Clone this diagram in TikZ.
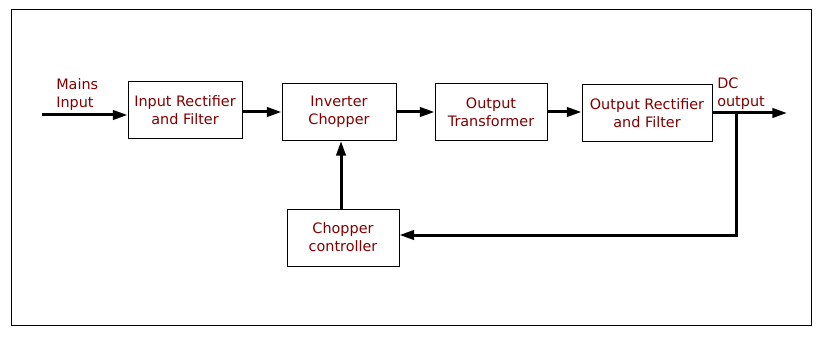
\documentclass[tikz,border=0pt]{standalone}
\usepackage{fontspec}
\setmainfont{DejaVu Sans}
\usetikzlibrary{arrows.meta,positioning}
\definecolor{PsuMaroon}{HTML}{800000}
\tikzset{
  psublock/.style={
    draw=black,
    line width=0.75pt,
    minimum height=42.75pt,
    align=center,
    text=PsuMaroon,
    font=\fontsize{10.8}{13.5}\selectfont,
    inner sep=2pt
  },
  psulabel/.style={
    anchor=north west,
    align=left,
    inner sep=0pt,
    text=PsuMaroon,
    font=\fontsize{10.8}{13.5}\selectfont
  },
  psuarrow/.style={-{Triangle[length=11pt,width=7pt]},line width=2.25pt,draw=black}
}
\begin{document}
\begin{tikzpicture}[x=0.75pt,y=-0.75pt]
    \useasboundingbox (0,0) rectangle (823,338);
    \draw[line width=0.75pt] (11,10) rectangle (811,325);
    % top row
    \node[psublock,minimum width=85.5pt] (inrect) at (185,110.5) {Input Rectifier\\and Filter};
    \node[psublock,minimum width=85.5pt] (chopper) at (339,112) {Inverter\\Chopper};
    \node[psublock,minimum width=84pt] (xfmr) at (491,112) {Output\\Transformer};
    \node[psublock,minimum width=97.5pt] (outrect) at (647,113) {Output Rectifier\\and Filter};
    % feedback
    \node[psublock,minimum width=84pt] (ctrl) at (343,237.5) {Chopper\\controller};
    \node[psulabel] (mainslbl) at (56,78) {Mains\\Input};
    \node[psulabel] (dclbl) at (717,78) {DC\\output};
    \coordinate (mains) at (42,115);
    \coordinate (dcout) at (787,113);
    \coordinate (tap) at (736,113);
    \draw[psuarrow] (mains) -- (mains -| inrect.west);
    \draw[psuarrow] (inrect.east |- chopper) -- (chopper.west);
    \draw[psuarrow] (chopper) -- (xfmr);
    \draw[psuarrow] (xfmr.east) -- (xfmr.east -| outrect.west);
    \draw[psuarrow] (outrect.east) -- (dcout);
    \draw[psuarrow] (tap) |- (ctrl.east |- 0,235);
    \draw[psuarrow] (ctrl.north -| 341,0) -- (chopper.south -| 341,0);
  \end{tikzpicture}
\end{document}
